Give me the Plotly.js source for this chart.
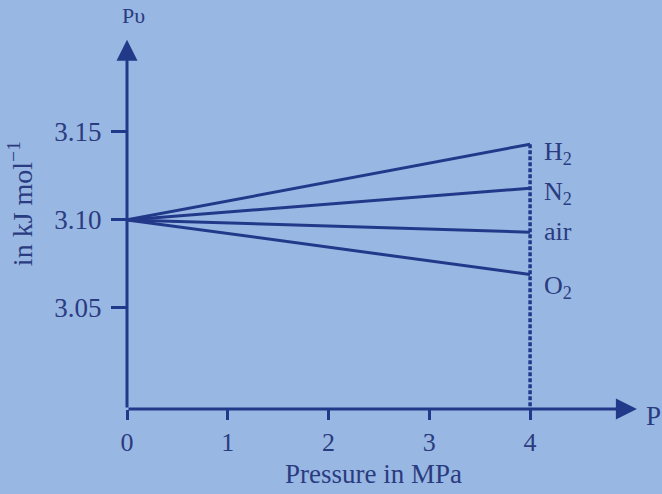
<!DOCTYPE html>
<html>
<head>
<meta charset="utf-8">
<script src="https://cdn.plot.ly/plotly-3.0.1.min.js"></script>
<style>html,body{margin:0;padding:0;background:#99b7e3;}</style>
</head>
<body>
<div id="chart" style="width:662px;height:494px;"></div>
<script>
// ---- data ----
const pressure = [0, 4];                       // MPa
const gases = ['H<sub>2</sub>', 'N<sub>2</sub>', 'air', 'O<sub>2</sub>'];
const pvStart = 3.10;                          // kJ mol^-1 at P = 0
const pvEnd = [3.143, 3.118, 3.093, 3.069];    // kJ mol^-1 at P = 4 MPa
const xTickVals = [0, 1, 2, 3, 4];
const xTickText = ['0', '1', '2', '3', '4'];
const yTickVals = [3.05, 3.10, 3.15];
const yTickText = ['3.05', '3.10', '3.15'];
const labelShift = [-9, -5, 1, -13];

const yMin = 2.9926, yMax = 3.205, xMax = 5.2;
const navy = '#22398a';
const textCol = '#2a3c80';
const bg = '#99b7e3';
const fam = 'Liberation Serif, Times New Roman, serif';

const traces = gases.map((g, i) => ({
  x: pressure,
  y: [pvStart, pvEnd[i]],
  mode: 'lines',
  line: {color: navy, width: 3},
  hoverinfo: 'skip',
  showlegend: false,
  name: g
}));
traces.push({
  x: [pressure[1], pressure[1]],
  y: [pvEnd[0], yMin],
  mode: 'lines',
  line: {color: navy, width: 3.5, dash: '4px,2px'},
  hoverinfo: 'skip',
  showlegend: false
});

const annotations = [];
// axis arrows
annotations.push({x: 5.06, y: yMin, ax: 0, ay: yMin, xref: 'x', yref: 'y', axref: 'x', ayref: 'y',
  text: '', showarrow: true, arrowhead: 2, arrowsize: 1.4, arrowwidth: 3, arrowcolor: navy, standoff: 0});
annotations.push({x: 0, y: 3.2023, ax: 0, ay: yMin, xref: 'x', yref: 'y', axref: 'x', ayref: 'y',
  text: '', showarrow: true, arrowhead: 2, arrowsize: 1.4, arrowwidth: 3, arrowcolor: navy, standoff: 0});
// gas labels
gases.forEach((g, i) => annotations.push({
  x: pressure[1], y: pvEnd[i], xref: 'x', yref: 'y', text: g, showarrow: false,
  xanchor: 'left', yanchor: 'middle', xshift: 12, yshift: labelShift[i],
  font: {family: fam, size: 26, color: textCol}
}));
// axis names
annotations.push({x: 0.012, y: 1.051, xref: 'paper', yref: 'paper', text: 'Pυ', showarrow: false,
  xanchor: 'center', yanchor: 'middle', font: {family: fam, size: 22, color: textCol}});
annotations.push({x: 1.0057, y: -0.02, xref: 'paper', yref: 'paper', text: 'P', showarrow: false,
  xanchor: 'center', yanchor: 'middle', font: {family: fam, size: 27, color: textCol}});
annotations.push({x: 0.471, y: -0.175, xref: 'paper', yref: 'paper', text: 'Pressure in MPa', showarrow: false,
  xanchor: 'center', yanchor: 'middle', font: {family: fam, size: 27, color: textCol}});
annotations.push({x: -0.204, y: 0.548, xref: 'paper', yref: 'paper', text: 'in kJ mol<sup>−1</sup>', showarrow: false,
  textangle: -90, xanchor: 'center', yanchor: 'middle', font: {family: fam, size: 28, color: textCol}});

const layout = {
  width: 662, height: 494,
  margin: {l: 127, r: 11, t: 35, b: 85, pad: 0},
  paper_bgcolor: bg, plot_bgcolor: bg,
  font: {family: fam, color: textCol},
  xaxis: {
    range: [0, xMax], showgrid: false, zeroline: false, showline: false,
    tickmode: 'array', tickvals: xTickVals, ticktext: xTickText,
    ticks: 'outside', ticklen: 10, tickwidth: 3, tickcolor: navy,
    tickfont: {family: fam, size: 26, color: textCol}, ticklabelstandoff: 0
  },
  yaxis: {
    range: [yMin, yMax], showgrid: false, zeroline: false, showline: false,
    tickmode: 'array', tickvals: yTickVals, ticktext: yTickText,
    ticks: 'outside', ticklen: 15, tickwidth: 3, tickcolor: navy,
    tickfont: {family: fam, size: 27, color: textCol}, ticklabelstandoff: 4
  },
  annotations: annotations,
  showlegend: false
};

Plotly.newPlot('chart', traces, layout, {displayModeBar: false, staticPlot: true});
</script>
</body>
</html>
